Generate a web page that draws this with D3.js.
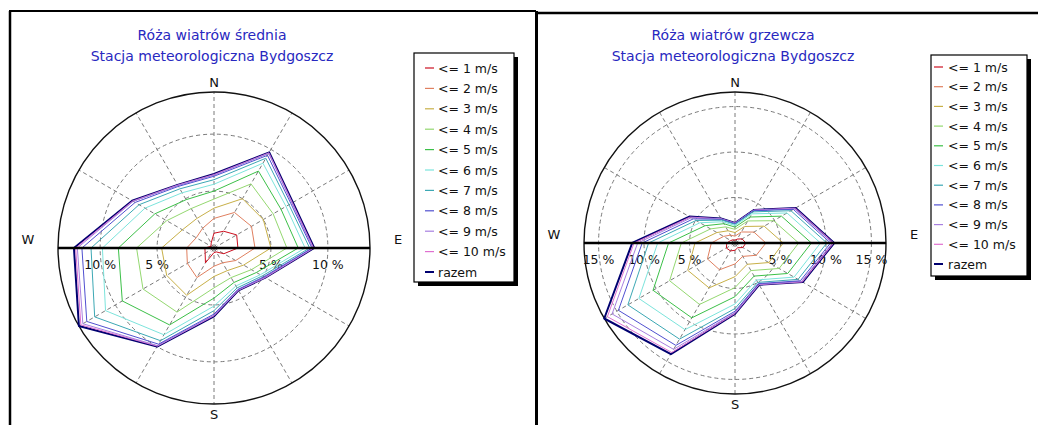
<!DOCTYPE html>
<html>
<head>
<meta charset="utf-8">
<script src="https://cdn.jsdelivr.net/npm/d3@7"></script>
<style>
  body { margin: 0; background: #fff; }
  svg text { font-family: "DejaVu Sans", sans-serif; }
</style>
</head>
<body>
<svg id="chart" width="1038" height="425"></svg>
<script>
// wind directions in degrees (clockwise from N)
const directions = [0, 30, 60, 90, 120, 150, 180, 210, 240, 270, 300, 330];

const seriesNames = ['<= 1 m/s', '<= 2 m/s', '<= 3 m/s', '<= 4 m/s', '<= 5 m/s',
  '<= 6 m/s', '<= 7 m/s', '<= 8 m/s', '<= 9 m/s', '<= 10 m/s', 'razem'];

// cumulative frequency [%] per direction - annual average
const sredniaSeries = [
  [1.3, 1.7, 2.3, 2.1, 1.0, 0.4, 0.4, 1.5, 0.9, 0.8, 0.3, 0.5],
  [2.6, 3.6, 3.8, 3.6, 2.2, 1.5, 1.6, 3.0, 2.7, 2.4, 1.8, 2.0],
  [3.5, 5.0, 5.0, 5.0, 3.0, 2.3, 2.5, 4.8, 4.8, 4.6, 3.2, 3.0],
  [4.3, 6.5, 6.0, 6.4, 3.8, 3.0, 3.5, 6.5, 7.2, 6.8, 4.8, 4.0],
  [5.0, 7.8, 6.8, 7.4, 4.3, 3.5, 4.4, 7.8, 9.3, 8.4, 6.0, 4.9],
  [5.6, 8.6, 7.3, 8.0, 4.7, 3.85, 5.1, 8.8, 11.0, 9.8, 7.0, 5.6],
  [6.0, 9.1, 7.6, 8.4, 4.9, 4.05, 5.5, 9.4, 12.1, 10.8, 7.6, 6.0],
  [6.3, 9.4, 7.8, 8.6, 5.05, 4.2, 5.8, 9.75, 12.9, 11.6, 8.0, 6.25],
  [6.4, 9.6, 7.9, 8.7, 5.15, 4.25, 5.9, 9.9, 13.3, 12.0, 8.2, 6.35],
  [6.45, 9.65, 7.95, 8.75, 5.2, 4.28, 5.95, 9.95, 13.5, 12.15, 8.25, 6.38],
  [6.5, 9.7, 8.0, 8.8, 5.2, 4.3, 6.0, 10.0, 13.7, 12.3, 8.3, 6.4]
];

// cumulative frequency [%] per direction - heating season
const grzewczaSeries = [
  [0.3, 0.5, 0.9, 1.2, 1.0, 0.6, 0.8, 1.0, 1.1, 0.9, 0.55, 0.4],
  [0.75, 1.4, 2.4, 3.4, 2.7, 1.7, 2.3, 3.4, 3.5, 2.6, 1.45, 1.0],
  [1.15, 2.1, 3.7, 5.3, 4.3, 2.7, 3.7, 5.7, 6.0, 4.4, 2.3, 1.55],
  [1.5, 2.8, 4.9, 7.0, 5.6, 3.5, 4.9, 7.8, 8.3, 5.9, 3.1, 2.05],
  [1.75, 3.3, 5.9, 8.4, 6.7, 4.2, 5.9, 9.5, 10.4, 7.3, 3.8, 2.45],
  [1.93, 3.7, 6.6, 9.4, 7.5, 4.7, 6.7, 11.0, 12.2, 8.5, 4.45, 2.7],
  [2.05, 3.95, 7.1, 10.1, 8.0, 5.0, 7.2, 12.2, 13.6, 9.5, 4.95, 2.9],
  [2.13, 4.1, 7.4, 10.5, 8.3, 5.15, 7.5, 13.0, 14.8, 10.2, 5.3, 3.0],
  [2.17, 4.15, 7.55, 10.7, 8.45, 5.25, 7.65, 13.5, 15.6, 10.7, 5.55, 3.05],
  [2.19, 4.18, 7.65, 10.85, 8.55, 5.28, 7.75, 13.9, 16.2, 11.1, 5.7, 3.08],
  [2.2, 4.2, 7.7, 10.9, 8.6, 5.3, 7.8, 14.1, 16.6, 11.3, 5.8, 3.1]
];

const sredniaTicks = [5, 10];
const grzewczaTicks = [5, 10, 15];
const compassLabels = [['N', 0], ['E', 90], ['S', 180], ['W', 270]];

const colours = ['#cc1020', '#e08060', '#c8b048', '#94d870', '#3cc048', '#7ce4dc',
  '#3ca8b4', '#5050d0', '#a880e0', '#e070d0', '#000070'];

class WindRose {

  constructor(_config, data) {
    this.config = {
      parentElement: _config.parentElement,
      cx: _config.cx,
      cy: _config.cy,
      radius: _config.radius,
      ticks: _config.ticks,
      title: _config.title,
      legend: _config.legend
    };
    this.data = data;
    this.initVis();
  }

  initVis() {
    let vis = this;
    const c = vis.config;

    vis.chartArea = d3.select(c.parentElement).append('g')
      .attr('transform', `translate(${c.cx},${c.cy})`);

    vis.rScale = d3.scaleLinear()
      .domain([0, d3.max(vis.data[vis.data.length - 1])])
      .range([0, c.radius]);

    // titles
    c.title.forEach((t, i) => {
      d3.select(c.parentElement).append('text')
        .attr('x', c.cx - 2)
        .attr('y', 40 + i * 21)
        .attr('text-anchor', 'middle')
        .attr('font-size', 14)
        .attr('fill', '#2828c0')
        .text(t);
    });

    vis.updateVis();
  }

  updateVis() {
    let vis = this;
    vis.angle = (d, i) => directions[i] * Math.PI / 180;
    vis.line = d3.lineRadial()
      .angle((d, i) => vis.angle(d, i))
      .radius(d => vis.rScale(d))
      .curve(d3.curveLinearClosed);
    vis.renderVis();
  }

  renderVis() {
    let vis = this;
    const c = vis.config;
    const R = c.radius;

    // dashed rings
    vis.chartArea.selectAll('.ring')
      .data(c.ticks.filter(t => vis.rScale(t) < R - 2))
      .join('circle')
      .attr('class', 'ring')
      .attr('r', d => vis.rScale(d))
      .attr('fill', 'none')
      .attr('stroke', '#7a7a7a')
      .attr('stroke-dasharray', '4,3');

    // dashed spokes every 30 degrees
    vis.chartArea.selectAll('.spoke')
      .data(d3.range(0, 360, 30).filter(a => a !== 90 && a !== 270))
      .join('line')
      .attr('class', 'spoke')
      .attr('x2', a => R * Math.sin(a * Math.PI / 180))
      .attr('y2', a => -R * Math.cos(a * Math.PI / 180))
      .attr('stroke', '#7a7a7a')
      .attr('stroke-dasharray', '4,3');

    vis.chartArea.append('circle')
      .attr('r', R)
      .attr('fill', 'none')
      .attr('stroke', '#111')
      .attr('stroke-width', 1.4);

    // percent labels along the W-E axis
    const tickData = c.ticks.flatMap(t => [-t, t]);
    vis.chartArea.selectAll('.tick-label')
      .data(tickData)
      .join('text')
      .attr('class', 'tick-label')
      .attr('x', d => Math.sign(d) * vis.rScale(Math.abs(d)))
      .attr('y', 21)
      .attr('text-anchor', 'middle')
      .attr('font-size', 12.5)
      .attr('fill', '#111')
      .text(d => `${Math.abs(d)} %`);

    // compass letters
    vis.chartArea.selectAll('.compass')
      .data(compassLabels)
      .join('text')
      .attr('class', 'compass')
      .attr('x', d => d[1] === 90 ? R + 28 : d[1] === 270 ? -R - 30 : 0)
      .attr('y', d => d[1] === 0 ? -R - 5 : d[1] === 180 ? R + 15 : -4)
      .attr('text-anchor', 'middle')
      .attr('font-size', 13)
      .attr('fill', '#111')
      .text(d => d[0]);

    // series polygons, total first
    const order = d3.range(vis.data.length).reverse();
    vis.chartArea.selectAll('.series')
      .data(order)
      .join('path')
      .attr('class', 'series')
      .attr('d', k => vis.line(vis.data[k]))
      .attr('fill', 'none')
      .attr('stroke', k => colours[k])
      .attr('stroke-width', k => k === vis.data.length - 1 ? 2 : 1)
      .attr('stroke-linejoin', 'round');

    // bold W-E axis on top
    vis.chartArea.append('line')
      .attr('x1', -R).attr('x2', R)
      .attr('stroke', '#000')
      .attr('stroke-width', 2.6);

    // legend
    const L = c.legend;
    const lg = d3.select(c.parentElement).append('g')
      .attr('transform', `translate(${L.x},${L.y})`);
    lg.append('rect')
      .attr('x', 4).attr('y', 4)
      .attr('width', L.w).attr('height', L.h)
      .attr('fill', '#000');
    lg.append('rect')
      .attr('width', L.w).attr('height', L.h)
      .attr('fill', '#fff')
      .attr('stroke', '#000')
      .attr('stroke-width', 1.2);
    const item = lg.selectAll('.item')
      .data(seriesNames)
      .join('g')
      .attr('class', 'item')
      .attr('transform', (d, i) => `translate(0,${L.first + i * L.step})`);
    item.append('line')
      .attr('x1', L.swatch).attr('x2', L.swatch + 9)
      .attr('stroke', (d, i) => colours[i])
      .attr('stroke-width', (d, i) => i === seriesNames.length - 1 ? 2 : 1.2);
    item.append('text')
      .attr('x', L.text)
      .attr('y', 4.5)
      .attr('font-size', 12.5)
      .attr('fill', '#111')
      .text(d => d);
  }
}

const svg = d3.select('#chart');

// panel frames
svg.append('line').attr('x1', 10).attr('y1', 11).attr('x2', 10).attr('y2', 425)
  .attr('stroke', '#000').attr('stroke-width', 2.5);
svg.append('line').attr('x1', 9).attr('y1', 11).attr('x2', 536).attr('y2', 11)
  .attr('stroke', '#000').attr('stroke-width', 2);
svg.append('line').attr('x1', 536.5).attr('y1', 11).attr('x2', 536.5).attr('y2', 425)
  .attr('stroke', '#000').attr('stroke-width', 3);
svg.append('line').attr('x1', 536).attr('y1', 13).attr('x2', 1038).attr('y2', 13)
  .attr('stroke', '#000').attr('stroke-width', 2.5);

new WindRose({
  parentElement: '#chart',
  cx: 214, cy: 248, radius: 156,
  ticks: sredniaTicks,
  title: ['Róża wiatrów średnia', 'Stacja meteorologiczna Bydgoszcz'],
  legend: { x: 414, y: 53, w: 100, h: 229, first: 15, step: 20.4, swatch: 11, text: 24 }
}, sredniaSeries);

new WindRose({
  parentElement: '#chart',
  cx: 735, cy: 243, radius: 151,
  ticks: grzewczaTicks,
  title: ['Róża wiatrów grzewcza', 'Stacja meteorologiczna Bydgoszcz'],
  legend: { x: 931, y: 55, w: 96, h: 221, first: 12, step: 19.7, swatch: 3, text: 17 }
}, grzewczaSeries);
</script>
</body>
</html>
